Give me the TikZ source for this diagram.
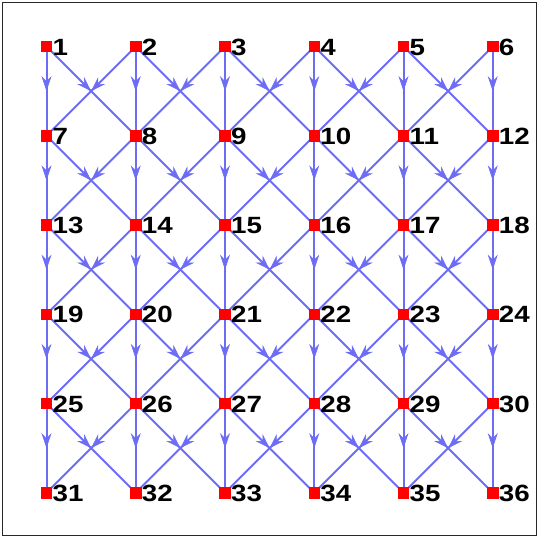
\documentclass[tikz,border=0pt]{standalone}
\usepackage{fontspec}
\setmainfont{Liberation Sans}
\usetikzlibrary{arrows.meta,decorations.markings,backgrounds}
\definecolor{edgeblue}{RGB}{108,108,245}
\definecolor{framegray}{RGB}{40,40,40}
\begin{document}
\begin{tikzpicture}[x=1pt,y=-1pt,
  vtx/.style={rectangle, fill=red, draw=none, minimum size=11.5pt, inner sep=0pt},
  lbl/.style={anchor=base west, inner sep=0pt, font=\fontsize{23.5}{23.5}\selectfont\bfseries\addfontfeatures{FakeStretch=1.18}},
  edge/.style={draw=edgeblue, line width=2pt, postaction={decorate},
    decoration={markings, mark=at position 0.5 with {\arrow[fill=edgeblue, line width=0.6pt]{Stealth[length=15pt,width=10pt,inset=5pt]}}}}]
\useasboundingbox (0,0) rectangle (540,539);
\draw[framegray, line width=1pt] (2.5,2.5) rectangle (536.5,535.5);
\foreach \r in {0,...,5} {
  \foreach \c in {0,...,5} {
    \pgfmathtruncatemacro\n{6*\r+\c+1}
    \node[vtx] (n\n) at ({46.5+89.25*\c},{46.5+89.25*\r}) {};
    \node[lbl] (t\n) at ([xshift=0pt,yshift=-8.5pt]n\n.east) {\n};
  }
}
\begin{scope}[on background layer]
\foreach \r in {0,...,4} {
  \foreach \c in {0,...,5} {
    \pgfmathtruncatemacro\a{6*\r+\c+1}
    \pgfmathtruncatemacro\b{\a+6}
    \draw[edge] (n\a.center) -- (n\b.center);
    \ifnum\c<5
      \pgfmathtruncatemacro\d{\a+7}
      \draw[edge] (n\a.center) -- (n\d.center);
    \fi
    \ifnum\c>0
      \pgfmathtruncatemacro\e{\a+5}
      \draw[edge] (n\a.center) -- (n\e.center);
    \fi
  }
}
\end{scope}
\end{tikzpicture}
\end{document}
